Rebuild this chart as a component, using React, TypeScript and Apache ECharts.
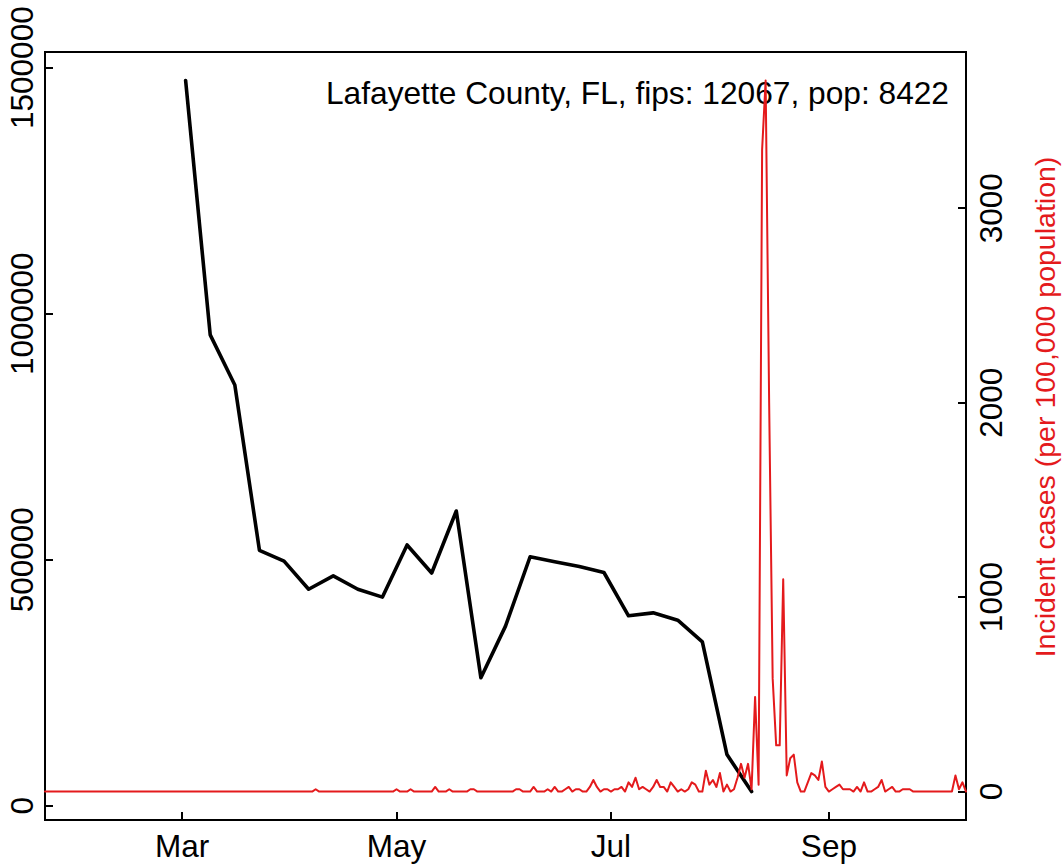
import React, { useEffect, useRef } from "react";
import * as echarts from "echarts";

const TITLE = "Lafayette County, FL, fips: 12067, pop: 8422";
const RIGHT_AXIS_NAME = "Incident cases (per 100,000 population)";

const X_MIN_DATE = "2020-01-22";
const X_MAX_DATE = "2020-10-10";
const X_TICK_DATES = ["2020-03-01", "2020-05-01", "2020-07-01", "2020-09-01"];
const X_TICK_LABELS = ["Mar", "May", "Jul", "Sep"];
const LEFT_TICKS = [0, 500000, 1000000, 1500000];
const RIGHT_TICKS = [0, 1000, 2000, 3000];

// weekly black series
const weeklyDates = [
  "2020-03-02", "2020-03-09", "2020-03-16", "2020-03-23", "2020-03-30",
  "2020-04-06", "2020-04-13", "2020-04-20", "2020-04-27",
  "2020-05-04", "2020-05-11", "2020-05-18", "2020-05-25",
  "2020-06-01", "2020-06-08", "2020-06-15", "2020-06-22", "2020-06-29",
  "2020-07-06", "2020-07-13", "2020-07-20", "2020-07-27",
  "2020-08-03", "2020-08-10",
];
const weeklyValues = [
  1474000, 957000, 855000, 519000, 497000,
  440000, 467000, 440000, 424000,
  530000, 473000, 599000, 260000,
  365000, 506000, 496000, 486000, 474000,
  386000, 392000, 377000, 333000,
  104000, 28800,
];

// daily red series, starting on DAILY_START, one value per day
const DAILY_START = "2020-01-22";
const incJan = [0, 0, 0, 0, 0, 0, 0, 0, 0, 0]; // Jan 22-31
const incFeb = [
  0, 0, 0, 0, 0, 0, 0, 0, 0, 0, 0, 0, 0, 0, 0,
  0, 0, 0, 0, 0, 0, 0, 0, 0, 0, 0, 0, 0, 0,
];
const incMar = [
  0, 0, 0, 0, 0, 0, 0, 0, 0, 0, 0, 0, 0, 0, 0, 0,
  0, 0, 0, 0, 0, 0, 0, 0, 0, 0, 0, 0, 0, 0, 0,
];
const incApr = [
  0, 0, 0, 0, 0, 0, 0, 11.9, 0, 0, 0, 0, 0, 0, 0,
  0, 0, 0, 0, 0, 0, 0, 0, 0, 0, 0, 0, 0, 0, 0,
];
const incMay = [
  11.9, 0, 0, 0, 11.9, 0, 0, 0, 0, 0, 0, 23.7, 0, 0, 0, 11.9,
  0, 0, 0, 0, 0, 11.9, 11.9, 0, 0, 0, 0, 0, 0, 0, 0,
];
const incJun = [
  0, 0, 0, 11.9, 11.9, 0, 0, 0, 23.7, 0, 0, 0, 11.9, 0, 23.7,
  0, 0, 11.9, 23.7, 0, 11.9, 11.9, 0, 0, 23.7, 59.4, 23.7, 0, 11.9, 11.9,
];
const incJul = [
  0, 11.9, 11.9, 23.7, 0, 47.5, 23.7, 71.2, 11.9, 23.7, 11.9, 0, 23.7, 59.4, 23.7, 23.7,
  0, 47.5, 23.7, 0, 11.9, 0, 11.9, 47.5, 35.6, 0, 0, 106.9, 35.6, 59.4, 23.7,
];
const incAug = [
  95.0, 0, 35.6, 0, 11.9, 71.2, 142.5, 71.2, 142.5, 11.9, 486.8, 35.6, 3301, 3657, 2000, 582,
  237.5, 237.5, 1092, 83.1, 171, 190, 47.5, 0, 0, 47.5, 95.0, 83.1, 59.4, 154.4, 23.7,
];
const incSep = [
  0, 11.9, 23.7, 35.6, 11.9, 11.9, 11.9, 0, 23.7, 0, 47.5, 0, 0, 11.9, 23.7,
  59.4, 0, 11.9, 23.7, 0, 0, 11.9, 11.9, 11.9, 0, 0, 0, 0, 0, 0,
];
const incOct = [0, 0, 0, 0, 0, 0, 83.1, 11.9, 47.5, 0]; // Oct 1-10

const RED = "#E41A1C";
const FONT = '"Liberation Sans", Arial, Helvetica, sans-serif';

function ts(d: string): number {
  const [y, m, dd] = d.split("-").map(Number);
  return Date.UTC(y, m - 1, dd);
}

function expandRange(vals: number[]): [number, number] {
  const lo = Math.min(...vals);
  const hi = Math.max(...vals);
  const pad = (hi - lo) * 0.04;
  return [lo - pad, hi + pad];
}

export default function App() {
  const ref = useRef<HTMLDivElement>(null);

  useEffect(() => {
    if (!ref.current) return;
    const chart = echarts.init(ref.current, undefined, { renderer: "svg" });

    const daily = [
      ...incJan, ...incFeb, ...incMar, ...incApr, ...incMay,
      ...incJun, ...incJul, ...incAug, ...incSep, ...incOct,
    ];
    const DAY = 86400000;
    const start = ts(DAILY_START);
    const redData = daily.map((v, i) => [start + i * DAY, v]);
    const blackData = weeklyDates.map((d, i) => [ts(d), weeklyValues[i]]);

    const [lMin, lMax] = expandRange(weeklyValues);
    const [rMin, rMax] = expandRange(daily);
    const xTicks = X_TICK_DATES.map(ts);

    const tickStyle = { color: "#000", width: 2 };
    const LABEL_SIZE = 31.5;

    chart.setOption({
      animation: false,
      backgroundColor: "#fff",
      grid: {
        left: 45,
        right: 98,
        top: 52,
        bottom: 45,
        show: true,
        borderColor: "#000",
        borderWidth: 2,
        backgroundColor: "transparent",
      },
      xAxis: {
        type: "value",
        min: ts(X_MIN_DATE),
        max: ts(X_MAX_DATE),
        axisLine: { show: true, onZero: false, lineStyle: tickStyle },
        axisTick: {
          show: true,
          inside: true,
          length: 8,
          lineStyle: tickStyle,
          customValues: xTicks,
        },
        axisLabel: {
          customValues: xTicks,
          formatter: (v: number) => {
            const i = xTicks.findIndex((t) => Math.abs(t - v) < DAY / 2);
            return i >= 0 ? X_TICK_LABELS[i] : "";
          },
          fontSize: LABEL_SIZE,
          fontFamily: FONT,
          color: "#000",
          margin: 10,
        },
        splitLine: { show: false },
      },
      yAxis: [
        {
          type: "value",
          position: "left",
          min: lMin,
          max: lMax,
          axisLine: { show: true, onZero: false, lineStyle: tickStyle },
          axisTick: {
            show: true,
            inside: true,
            length: 8,
            lineStyle: tickStyle,
            customValues: LEFT_TICKS,
          },
          axisLabel: {
            customValues: LEFT_TICKS,
            rotate: 90,
            fontSize: LABEL_SIZE,
            fontFamily: FONT,
            color: "#000",
            margin: 7.5,
            formatter: (v: number) => String(v),
          },
          splitLine: { show: false },
        },
        {
          type: "value",
          position: "right",
          min: rMin,
          max: rMax,
          axisLine: { show: true, onZero: false, lineStyle: tickStyle },
          axisTick: {
            show: true,
            inside: true,
            length: 8,
            lineStyle: tickStyle,
            customValues: RIGHT_TICKS,
          },
          axisLabel: {
            customValues: RIGHT_TICKS,
            rotate: 90,
            fontSize: LABEL_SIZE,
            fontFamily: FONT,
            color: "#000",
            margin: 9,
            formatter: (v: number) => String(v),
          },
          splitLine: { show: false },
        },
      ],
      graphic: [
        {
          type: "text",
          x: 949,
          y: 92.5,
          style: {
            text: TITLE,
            align: "right",
            verticalAlign: "middle",
            fontSize: 31.7,
            fontFamily: FONT,
            fill: "#000",
          },
        },
        {
          type: "text",
          x: 1045,
          y: 407,
          rotation: Math.PI / 2,
          style: {
            text: RIGHT_AXIS_NAME,
            align: "center",
            verticalAlign: "middle",
            fontSize: 28.5,
            fontFamily: FONT,
            fill: RED,
          },
        },
      ],
      series: [
        {
          type: "line",
          yAxisIndex: 0,
          data: blackData,
          showSymbol: false,
          symbol: "none",
          lineStyle: { color: "#000", width: 3.6, join: "round", cap: "round" },
          z: 2,
        },
        {
          type: "line",
          yAxisIndex: 1,
          data: redData,
          showSymbol: false,
          symbol: "none",
          lineStyle: { color: RED, width: 2, join: "round", cap: "round" },
          z: 3,
        },
      ],
    });

    return () => chart.dispose();
  }, []);

  return (
    <div
      ref={ref}
      style={{ position: "fixed", left: 0, top: 0, width: 1064, height: 865, background: "#fff" }}
    />
  );
}
